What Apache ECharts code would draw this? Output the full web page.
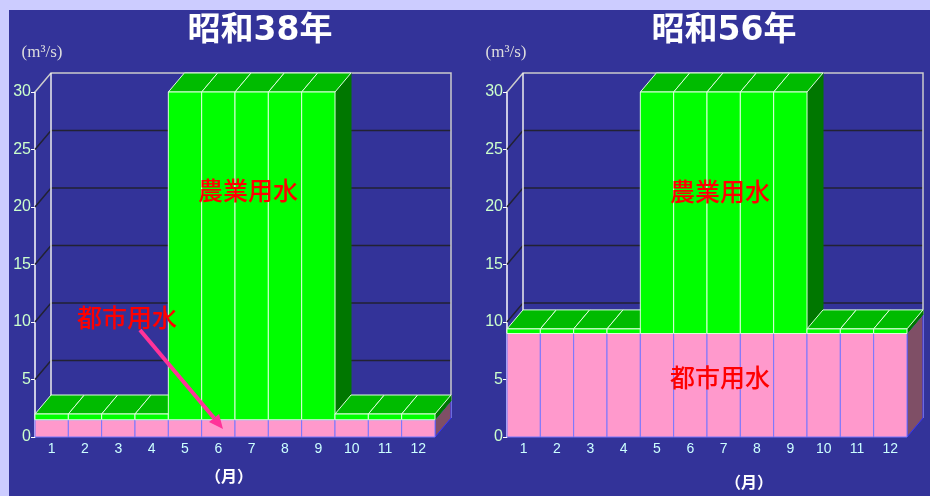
<!DOCTYPE html>
<html>
<head>
<meta charset="utf-8">
<script src="https://cdn.jsdelivr.net/npm/echarts@6/dist/echarts.min.js"></script>
<style>
  html, body { margin: 0; padding: 0; background: #333399; }
  #chart { width: 930px; height: 496px; }
</style>
</head>
<body>
<div id="chart"></div>
<script>
// months on the x axis
const months = ["1", "2", "3", "4", "5", "6", "7", "8", "9", "10", "11", "12"];
// value axis levels with a grid line on the back wall
const gridLevels = [5, 10, 15, 20, 25];

// 昭和38年 (m3/s)
const urban38 = [1.5, 1.5, 1.5, 1.5, 1.5, 1.5, 1.5, 1.5, 1.5, 1.5, 1.5, 1.5];
const agri38 = [0.5, 0.5, 0.5, 0.5, 28.5, 28.5, 28.5, 28.5, 28.5, 0.5, 0.5, 0.5];
// 昭和56年 (m3/s)
const urban56 = [9, 9, 9, 9, 9, 9, 9, 9, 9, 9, 9, 9];
const agri56 = [0.4, 0.4, 0.4, 0.4, 21, 21, 21, 21, 21, 0.4, 0.4, 0.4];

const DEPTH_X = 16;
const DEPTH_Y = 19;

const COLORS = {
  bg: "#333399",
  border: "#ccccff",
  agriFront: "#00ff00",
  agriTop: "#00bb00",
  agriSide: "#007700",
  agriLine: "#ddffdd",
  urbanFront: "#ff99cc",
  urbanSide: "#7f4f66",
  urbanLine: "#7777ff",
  grid: "#222233",
  frame: "#cccccc",
  label: "#ff0000",
};

function box(x0, x1, yBot, yTop, st) {
  return [
    {
      type: "polygon",
      shape: { points: [[x1, yTop], [x1 + DEPTH_X, yTop - DEPTH_Y], [x1 + DEPTH_X, yBot - DEPTH_Y], [x1, yBot]] },
      style: { fill: st.side, stroke: st.sideLine, lineWidth: 1 },
    },
    {
      type: "polygon",
      shape: { points: [[x0, yTop], [x0 + DEPTH_X, yTop - DEPTH_Y], [x1 + DEPTH_X, yTop - DEPTH_Y], [x1, yTop]] },
      style: { fill: st.top, stroke: st.line, lineWidth: 1 },
    },
    {
      type: "rect",
      shape: { x: x0, y: yTop, width: x1 - x0, height: yBot - yTop },
      style: { fill: st.front, stroke: st.line, lineWidth: 1 },
    },
  ];
}

const urbanStyle = {
  front: COLORS.urbanFront, top: COLORS.urbanFront, side: COLORS.urbanSide,
  line: COLORS.urbanLine, sideLine: "#3333ff",
};
const agriStyle = {
  front: COLORS.agriFront, top: COLORS.agriTop, side: COLORS.agriSide,
  line: COLORS.agriLine, sideLine: COLORS.agriSide,
};

function renderBar(params, api) {
  const idx = api.value(0);
  const urban = api.value(1);
  const agri = api.value(2);
  const w = api.size([1, 0])[0];
  const base = api.coord([idx, 0]);
  const x0 = base[0] - w / 2;
  const x1 = base[0] + w / 2;
  const y1 = api.coord([idx, urban])[1];
  const y2 = api.coord([idx, urban + agri])[1];
  return {
    type: "group",
    children: box(x0, x1, base[1], y1, urbanStyle).concat(box(x0, x1, y1, y2, agriStyle)),
  };
}

function renderWall(params, api) {
  const cs = params.coordSys;
  const left = cs.x, right = cs.x + cs.width;
  const top = api.coord([0, 30])[1];
  const bottom = api.coord([0, 0])[1];
  const children = [];
  gridLevels.forEach(function (v) {
    const y = api.coord([0, v])[1];
    children.push({
      type: "polyline",
      shape: { points: [[left, y], [left + DEPTH_X, y - DEPTH_Y], [right + DEPTH_X, y - DEPTH_Y]] },
      style: { stroke: COLORS.grid, lineWidth: 1.5, fill: null },
    });
  });
  children.push({
    type: "polyline",
    shape: { points: [[left, top], [left + DEPTH_X, top - DEPTH_Y], [right + DEPTH_X, top - DEPTH_Y], [right + DEPTH_X, bottom - DEPTH_Y]] },
    style: { stroke: COLORS.frame, lineWidth: 1.5, fill: null },
  });
  children.push({
    type: "line",
    shape: { x1: left + DEPTH_X, y1: top - DEPTH_Y, x2: left + DEPTH_X, y2: bottom - DEPTH_Y },
    style: { stroke: "#eeeeee", lineWidth: 1.5 },
  });
  return { type: "group", children: children };
}

function rows(urban, agri) {
  return months.map(function (m, i) { return [i, urban[i], agri[i]]; });
}

const chart = echarts.init(document.getElementById("chart"));

const xAxisBase = {
  type: "category",
  data: months,
  axisLine: { show: false },
  axisTick: { show: false },
  axisLabel: { color: "#ccffff", fontSize: 14, margin: 5, fontFamily: "Liberation Sans" },
};
const yAxisBase = {
  type: "value",
  min: 0,
  max: 30,
  interval: 5,
  axisLine: { show: true, lineStyle: { color: "#ffffff", width: 1.5 } },
  axisTick: { show: true, length: 4, lineStyle: { color: "#ffffff" } },
  axisLabel: { color: "#ccffcc", fontSize: 16, margin: 4, fontFamily: "Liberation Sans" },
  splitLine: { show: false },
};

const titleFont = { fill: "#ffffff", fontSize: 33, fontWeight: "bold", fontFamily: "DejaVu Sans, Noto Sans CJK JP" };
const redFont = { fill: COLORS.label, fontSize: 25, fontWeight: 500, fontFamily: "Noto Sans CJK JP" };
const unitFont = { fill: "#dddddd", fontSize: 17, fontFamily: "Liberation Serif" };
const monthFont = { fill: "#ffffff", fontSize: 16, fontWeight: "bold", fontFamily: "Noto Sans CJK JP" };

function text(x, y, str, font) {
  return { type: "text", x: x, y: y, style: Object.assign({ text: str, align: "center", verticalAlign: "middle" }, font), z: 100 };
}

const option = {
  backgroundColor: COLORS.bg,
  animation: false,
  grid: [
    { left: 35, width: 400, top: 92, height: 345 },
    { left: 507, width: 400, top: 92, height: 345 },
  ],
  xAxis: [
    Object.assign({ gridIndex: 0 }, xAxisBase),
    Object.assign({ gridIndex: 1 }, xAxisBase),
  ],
  yAxis: [
    Object.assign({ gridIndex: 0 }, yAxisBase),
    Object.assign({ gridIndex: 1 }, yAxisBase),
  ],
  series: [
    { type: "custom", name: "wall38", xAxisIndex: 0, yAxisIndex: 0, clip: false, silent: true, renderItem: renderWall, data: [[0]] },
    { type: "custom", name: "wall56", xAxisIndex: 1, yAxisIndex: 1, clip: false, silent: true, renderItem: renderWall, data: [[0]] },
    { type: "custom", name: "昭和38年", xAxisIndex: 0, yAxisIndex: 0, clip: false, renderItem: renderBar, data: rows(urban38, agri38) },
    { type: "custom", name: "昭和56年", xAxisIndex: 1, yAxisIndex: 1, clip: false, renderItem: renderBar, data: rows(urban56, agri56) },
  ],
  graphic: [
    { type: "rect", shape: { x: 0, y: 0, width: 930, height: 10 }, style: { fill: COLORS.border }, z: 100 },
    { type: "rect", shape: { x: 0, y: 0, width: 9, height: 496 }, style: { fill: COLORS.border }, z: 100 },
    text(260, 31, "昭和38年", titleFont),
    text(724, 31, "昭和56年", titleFont),
    text(42, 53, "(m³/s)", unitFont),
    text(506, 53, "(m³/s)", unitFont),
    text(229, 476, "（月）", monthFont),
    text(749, 482, "（月）", monthFont),
    text(248, 190, "農業用水", redFont),
    text(720, 191, "農業用水", redFont),
    text(127, 317, "都市用水", redFont),
    text(720, 377, "都市用水", redFont),
    { type: "line", shape: { x1: 140, y1: 330, x2: 214, y2: 418 }, style: { stroke: "#ff3399", lineWidth: 4 }, z: 100 },
    { type: "polygon", shape: { points: [[223, 429], [209, 422], [219, 414]] }, style: { fill: "#ff3399" }, z: 100 },
  ],
};

chart.setOption(option);
</script>
</body>
</html>
